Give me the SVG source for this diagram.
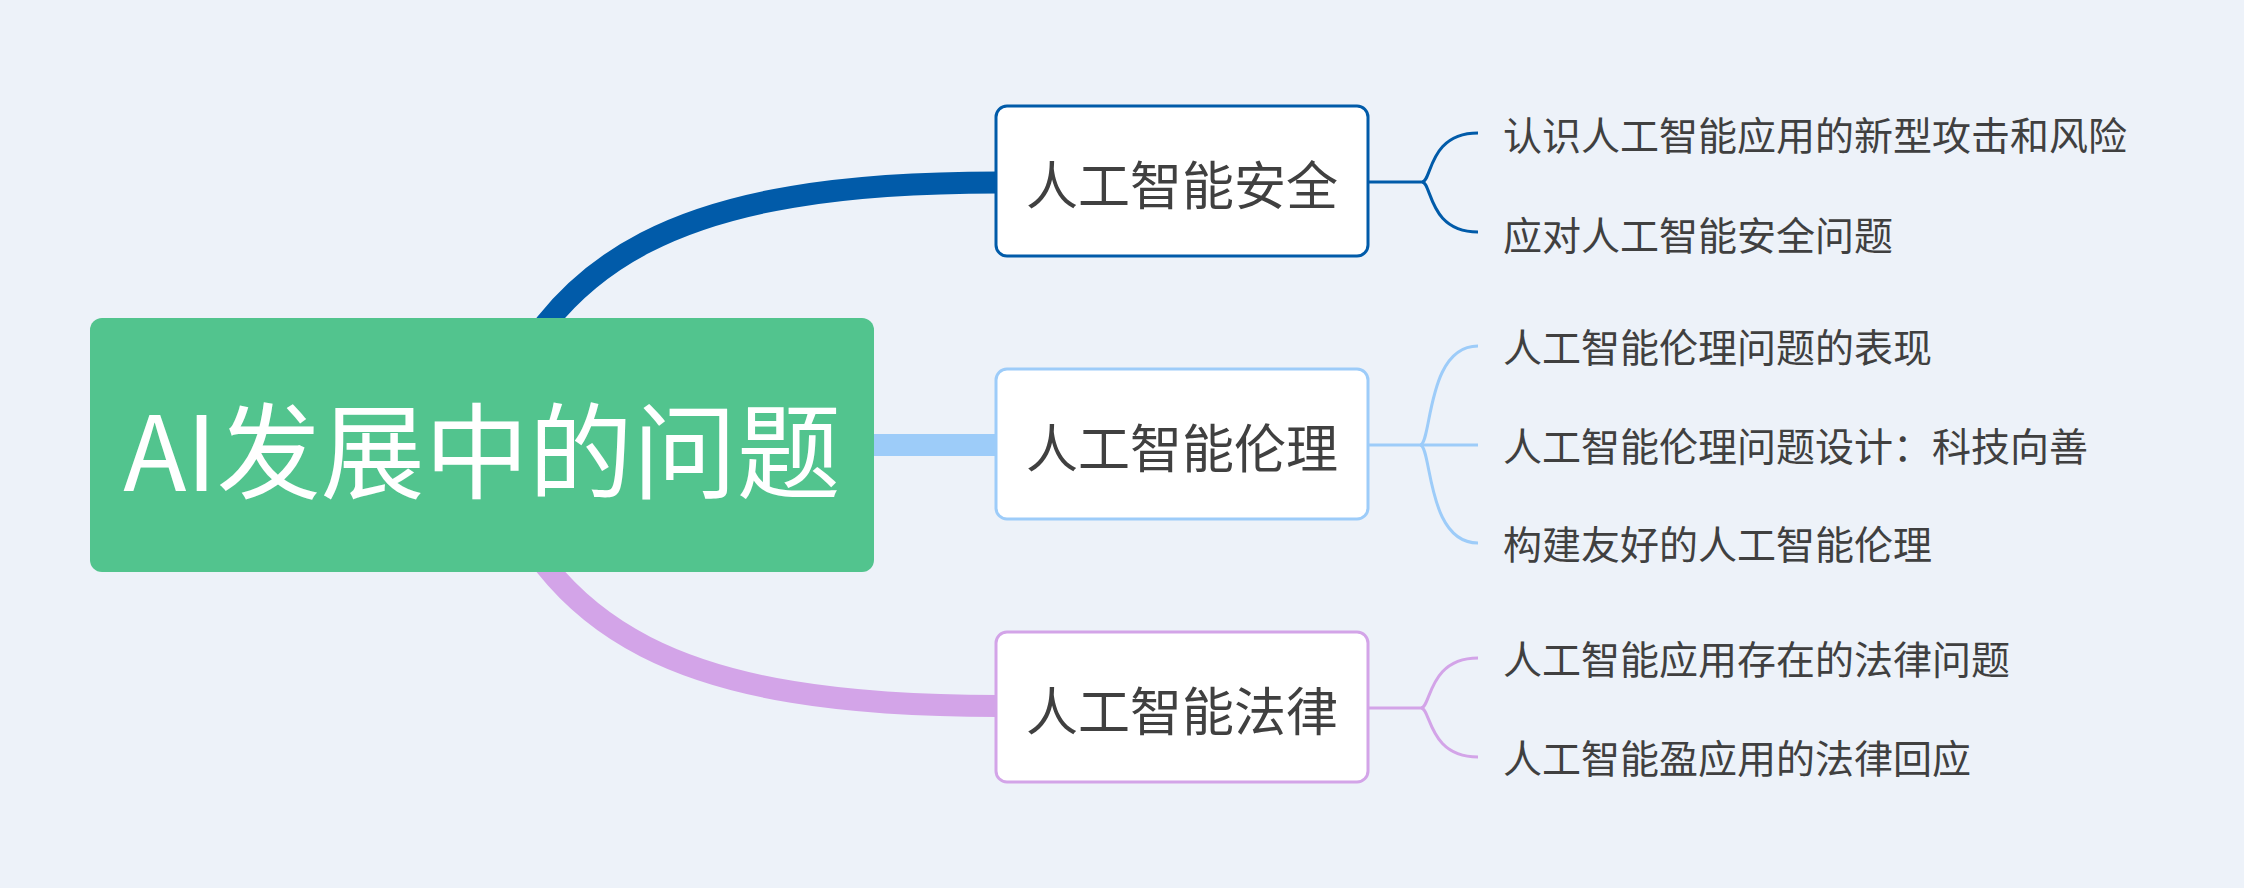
<svg xmlns="http://www.w3.org/2000/svg" width="2244" height="888" viewBox="0 0 2244 888">
  <style>
    .bg { fill: #EDF2F9; }
    text { font-family: "Noto Sans CJK SC", "Noto Sans", sans-serif; }
    .root-box { fill: #52C48E; }
    .root-label { fill: #FFFFFF; font-size: 104px; text-anchor: middle; }
    .topic-box { fill: #FFFFFF; stroke-width: 3; }
    .topic-label { fill: #404040; font-size: 52px; text-anchor: middle; }
    .leaf-label { fill: #404040; font-size: 39px; }
    .main-link { fill: none; stroke-width: 22; }
    .sub-link { fill: none; stroke-width: 3; }
    .c-security { stroke: #015BA9; }
    .c-ethics { stroke: #9DCCF9; }
    .c-law { stroke: #D3A4E8; }
  </style>

  <rect class="bg" x="0" y="0" width="2244" height="888"/>

  <!-- connectors -->
  <g id="connectors">
    <!-- root to main topics -->
    <path class="main-link c-security" d="M482,445 C548,255 680,182.5 998,182.5"/>
    <path class="main-link c-ethics" d="M482,445 H998"/>
    <path class="main-link c-law" d="M482,445 C548,635 680,706 998,706"/>

    <!-- security sub-branches -->
    <path class="sub-link c-security" d="M1368,182 H1422"/>
    <path class="sub-link c-security" d="M1422,182 C1432,182 1428,133 1478,133"/>
    <path class="sub-link c-security" d="M1422,182 C1432,182 1428,232 1478,232"/>

    <!-- ethics sub-branches -->
    <path class="sub-link c-ethics" d="M1368,445 H1478"/>
    <path class="sub-link c-ethics" d="M1420,445 C1432,445 1426,346 1478,346"/>
    <path class="sub-link c-ethics" d="M1420,445 C1432,445 1426,543 1478,543"/>

    <!-- law sub-branches -->
    <path class="sub-link c-law" d="M1368,708 H1421"/>
    <path class="sub-link c-law" d="M1421,708 C1431,708 1428,658 1478,658"/>
    <path class="sub-link c-law" d="M1421,708 C1431,708 1428,757 1478,757"/>
  </g>

  <!-- root topic -->
  <g id="root">
    <rect class="root-box" x="90" y="318" width="784" height="254" rx="12" ry="12"/>
    <text class="root-label" x="482" y="491">AI发展中的问题</text>
  </g>

  <!-- main topic: security -->
  <g id="topic-security">
    <rect class="topic-box c-security" x="996" y="106" width="372" height="150" rx="11" ry="11"/>
    <text class="topic-label" x="1182" y="205">人工智能安全</text>
  </g>

  <!-- main topic: ethics -->
  <g id="topic-ethics">
    <rect class="topic-box c-ethics" x="996" y="369" width="372" height="150" rx="11" ry="11"/>
    <text class="topic-label" x="1182" y="468">人工智能伦理</text>
  </g>

  <!-- main topic: law -->
  <g id="topic-law">
    <rect class="topic-box c-law" x="996" y="632" width="372" height="150" rx="11" ry="11"/>
    <text class="topic-label" x="1182" y="731">人工智能法律</text>
  </g>

  <!-- subtopics -->
  <g id="leaf-security-1"><text class="leaf-label" x="1503" y="150">认识人工智能应用的新型攻击和风险</text></g>
  <g id="leaf-security-2"><text class="leaf-label" x="1503" y="250">应对人工智能安全问题</text></g>
  <g id="leaf-ethics-1"><text class="leaf-label" x="1503" y="362">人工智能伦理问题的表现</text></g>
  <g id="leaf-ethics-2"><text class="leaf-label" x="1503" y="461">人工智能伦理问题设计：科技向善</text></g>
  <g id="leaf-ethics-3"><text class="leaf-label" x="1503" y="559">构建友好的人工智能伦理</text></g>
  <g id="leaf-law-1"><text class="leaf-label" x="1503" y="674">人工智能应用存在的法律问题</text></g>
  <g id="leaf-law-2"><text class="leaf-label" x="1503" y="773">人工智能盈应用的法律回应</text></g>
</svg>
